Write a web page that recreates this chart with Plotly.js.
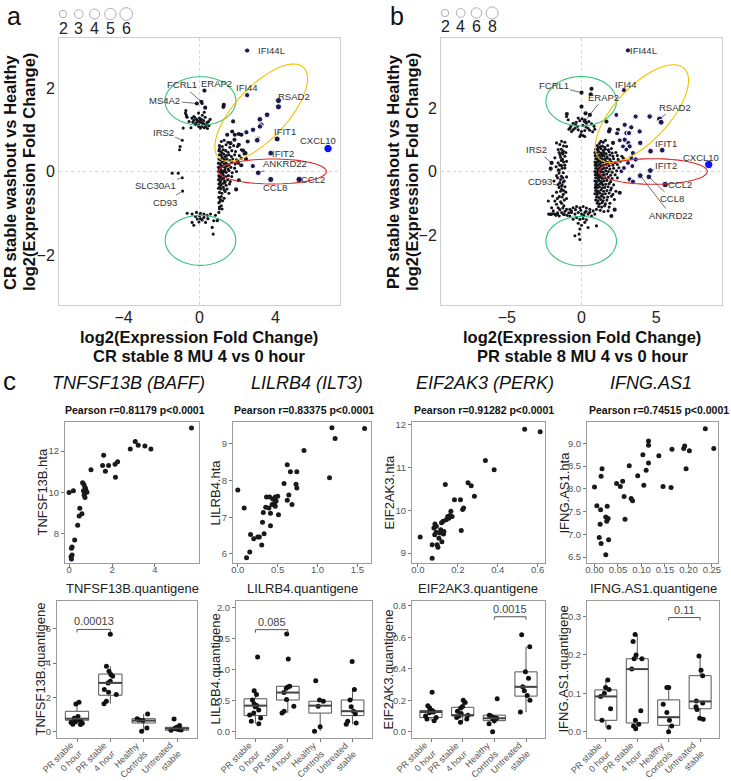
<!DOCTYPE html>
<html><head><meta charset="utf-8">
<script src="https://cdn.plot.ly/plotly-3.0.1.min.js"></script>
<style>html,body{margin:0;padding:0;background:#fff}#chart{width:731px;height:781px}</style>
</head><body><div id="chart"></div>
<script>
// ================= DATA =================
// Panel a (CR stable) volcano-like points [x, y]
const aTopCluster = [[-0.86,1.04],[-0.72,1.46],[-0.70,1.36],[-0.65,1.30],[-0.55,1.20],[-0.45,1.05],[-0.40,1.28],[-0.35,1.18],[-0.30,1.23],[-0.30,1.32],[-0.25,1.30],[-0.21,1.12],[-0.20,1.15],[-0.15,1.25],[-0.12,1.20],[-0.10,1.20],[-0.05,1.12],[-0.04,1.08],[-0.05,1.40],[0.00,1.28],[0.02,1.22],[0.05,1.18],[0.05,1.04],[0.10,1.25],[0.12,1.08],[0.14,1.17],[0.14,1.63],[0.15,1.35],[0.18,1.15],[0.22,1.22],[0.23,1.14],[0.25,1.05],[0.25,1.42],[0.30,1.30],[0.32,1.08],[0.35,1.12],[0.40,1.18],[0.42,1.03],[0.44,1.12],[0.48,1.20],[0.50,1.10],[0.56,1.25],[-0.74,1.40],[-0.68,1.32]];
const aLeftDots = [[-0.91,0.75],[-1.02,0.60],[-1.05,0.52],[-1.44,-0.04],[-1.12,-0.04],[-0.91,-0.15],[-0.89,-0.47]];
const aBottomCluster = [[-0.65,-1.00],[-0.39,-1.02],[-0.16,-0.98],[0.05,-1.00],[0.23,-1.02],[0.40,-1.05],[0.58,-1.02],[0.84,-1.05],[1.02,-0.98],[0.75,-1.18],[0.93,-1.18],[-0.39,-1.22],[-0.30,-1.29],[-0.12,-1.14],[0.05,-1.13],[0.14,-1.16],[0.23,-1.10],[-0.03,-1.21],[0.32,-1.22],[0.67,-1.34],[0.72,-1.50],[0.00,-1.06],[-0.21,-1.08],[0.44,-1.13],[0.96,-1.16],[1.05,-0.89],[1.10,-0.67],[1.02,-0.75],[1.19,-0.90]];
const aCoreDots = [[1.15,0.72],[1.30,0.75],[1.50,0.70],[1.05,0.62],[1.20,0.60],[1.40,0.64],[1.60,0.58],[1.80,0.62],[2.00,0.60],[1.02,0.50],[1.12,0.48],[1.25,0.52],[1.38,0.50],[1.50,0.46],[1.70,0.50],[1.90,0.48],[2.20,0.52],[1.05,0.40],[1.15,0.38],[1.28,0.42],[1.42,0.38],[1.55,0.40],[1.68,0.36],[1.85,0.40],[2.10,0.38],[2.35,0.42],[1.02,0.30],[1.10,0.28],[1.20,0.32],[1.32,0.28],[1.45,0.30],[1.60,0.26],[1.75,0.30],[1.95,0.28],[2.20,0.32],[1.00,0.20],[1.08,0.18],[1.18,0.22],[1.30,0.18],[1.40,0.20],[1.55,0.16],[1.70,0.22],[1.88,0.18],[2.05,0.20],[1.00,0.10],[1.10,0.08],[1.22,0.12],[1.35,0.10],[1.50,0.06],[1.65,0.10],[1.85,0.08],[1.00,0.00],[1.08,-0.02],[1.16,0.02],[1.28,0.00],[1.40,-0.02],[1.55,0.02],[1.72,-0.03],[1.95,0.00],[1.02,-0.10],[1.12,-0.12],[1.25,-0.08],[1.38,-0.12],[1.52,-0.10],[1.70,-0.12],[1.00,-0.20],[1.10,-0.22],[1.20,-0.18],[1.32,-0.22],[1.48,-0.20],[1.62,-0.24],[1.02,-0.30],[1.14,-0.32],[1.26,-0.28],[1.40,-0.33],[1.58,-0.30],[1.00,-0.40],[1.12,-0.42],[1.25,-0.38],[1.45,-0.42],[1.05,-0.50],[1.18,-0.52],[1.35,-0.48],[1.55,-0.52],[1.02,-0.62],[1.15,-0.60],[1.30,-0.64],[1.08,-0.72],[1.22,-0.70],[1.05,-0.85],[1.15,-0.82],[1.06,0.55],[1.18,0.45],[1.33,0.35],[1.26,0.25],[1.12,0.15],[1.45,0.14],[1.05,0.05],[1.33,0.04],[1.20,-0.04],[1.06,-0.15],[1.28,-0.15],[1.10,-0.26],[1.35,-0.26],[1.08,-0.36],[1.30,-0.44]];
const aMidDots = [[1.46,0.88],[1.63,0.68],[1.72,0.96],[1.84,0.76],[2.07,0.90],[2.21,0.88],[2.07,0.64],[2.42,0.44],[2.30,0.50],[2.54,0.72],[1.93,-0.43],[2.07,-0.21],[1.77,1.20],[1.86,0.88],[1.26,1.55],[1.28,1.60],[2.00,0.25],[2.20,0.15],[2.45,0.30],[0.26,1.94],[0.10,1.67],[-0.14,1.63],[0.30,1.53]];
// [x, y, size value]
const aBigDots = [[2.51,2.90,3.6],[2.51,1.83,3.6],[4.16,1.70,4.3],[4.16,1.55,4.3],[3.56,1.36,4],[3.18,1.25,4],[3.25,1.12,4],[3.18,1.08,3.8],[2.82,1.00,3.8],[3.07,0.78,4],[3.04,0.75,4],[2.47,0.94,3.6],[4.09,0.78,4.3],[3.75,0.44,4],[6.77,0.55,6],[3.09,-0.03,4],[3.75,-0.19,4.3],[5.25,-0.19,4.6],[2.81,0.13,3.6]];
const aGenes = ["IFI44L","ERAP2","FCRL1","MS4A2","IFI44","RSAD2","IFIT1","CXCL10","IFIT2","ANKRD22","CCL2","CCL8","IRS2","SLC30A1","CD93"];
const aGeneX = [2.51,0.26,0.10,-0.14,2.51,4.16,4.09,6.77,3.75,3.09,5.25,3.75,-0.91,-0.91,-0.89];
const aGeneY = [2.90,1.94,1.67,1.63,1.83,1.70,0.78,0.55,0.44,-0.03,-0.19,-0.19,0.75,-0.15,-0.47];
const aSizeLegend = [2,3,4,5,6];

// Panel b (PR stable)
const bTopCluster = [[-1.00,1.73],[-0.89,1.63],[-0.71,1.42],[-0.56,1.52],[-0.40,1.47],[-0.22,1.68],[-0.11,1.60],[0.04,1.66],[0.22,1.63],[0.33,1.52],[0.49,1.57],[0.67,1.50],[0.84,1.42],[-0.22,1.31],[0.00,1.26],[0.22,1.29],[-0.04,1.16],[0.11,1.13],[-0.78,1.36],[-0.44,1.36],[0.44,1.36],[-0.67,1.26],[-0.84,1.33],[-0.56,1.31],[-0.27,1.42],[0.89,1.33],[-0.11,1.10],[0.22,1.10],[0.30,1.40],[0.10,1.45],[-0.35,1.55],[0.55,1.30],[0.75,1.25]];
const bLeftStripe = [[-1.67,0.90],[-1.33,0.95],[-1.11,0.92],[-1.00,0.79],[-1.56,0.69],[-1.22,0.64],[-1.44,0.53],[-1.11,0.48],[-1.78,0.43],[-1.27,0.38],[-1.00,0.32],[-1.56,0.27],[-1.33,0.19],[-1.11,0.11],[-1.49,0.04],[-1.22,-0.04],[-1.67,-0.13],[-1.00,-0.17],[-1.40,-0.25],[-1.22,-0.33],[-1.56,-0.41],[-1.11,-0.48],[-1.33,-0.56],[-1.67,-0.65],[-1.22,-0.72],[-1.49,-0.79],[-1.00,-0.85],[-1.78,-0.93],[-1.33,-1.00],[-1.18,-1.08],[-1.56,-1.14],[-1.00,-1.19],[-1.89,-1.24],[-1.33,-1.29],[-2.00,-1.34],[-1.71,-1.38],[-1.49,-1.40],[-1.22,-1.34],[-0.96,-1.38],[-1.84,-0.30],[-1.93,-0.77],[-1.45,0.85],[-1.20,0.80],[-1.35,0.70],[-1.50,0.60],[-1.25,0.55],[-1.40,0.45],[-1.20,0.30],[-1.45,0.20],[-1.30,0.10],[-1.50,-0.05],[-1.35,-0.15],[-1.25,-0.20],[-1.45,-0.35],[-1.30,-0.42],[-1.20,-0.60],[-1.40,-0.62],[-1.50,-0.50],[-1.30,-0.80],[-1.15,-0.90],[-1.40,-0.95],[-1.25,-1.15],[-1.45,-1.20],[-1.60,-1.30],[-1.10,-1.25],[-1.30,0.60],[-1.55,0.05],[-1.15,-0.30],[-1.60,-0.20],[-1.35,0.35],[-1.05,0.60],[-2.22,-0.93],[-2.11,-1.34],[-1.78,-1.34],[-2.00,-1.14],[-1.67,-1.03],[-1.33,-0.46],[-2.20,-1.34],[-2.05,-1.35],[-1.90,-1.33],[-1.60,-1.34],[-1.15,-1.35],[-0.85,-1.30],[-1.70,0.15],[-1.62,-0.85],[-1.05,-0.65],[-1.12,0.20]];
const bBottomCluster = [[-0.78,-1.19],[-0.56,-1.14],[-0.33,-1.10],[-0.11,-1.14],[0.11,-1.10],[0.33,-1.15],[0.56,-1.19],[0.78,-1.24],[1.00,-1.19],[-0.67,-1.29],[-0.44,-1.34],[-0.22,-1.29],[0.00,-1.34],[0.22,-1.29],[0.44,-1.34],[0.67,-1.40],[-0.33,-1.45],[-0.11,-1.50],[0.11,-1.48],[0.33,-1.52],[-0.22,-1.63],[0.00,-1.69],[0.22,-1.60],[-0.11,-1.81],[0.44,-1.76],[1.00,-1.71],[-0.56,-1.50],[-0.16,-1.97],[-0.11,-2.14],[-0.44,-2.02],[-0.78,-1.40],[0.89,-1.34],[-0.67,-1.24],[-0.05,-1.22],[0.15,-1.38],[0.55,-1.28],[-0.40,-1.20],[0.30,-1.25]];
const bRightCore = [[1.30,0.95],[1.45,0.92],[1.60,0.98],[1.20,0.88],[1.05,0.82],[1.25,0.78],[1.40,0.80],[1.55,0.76],[1.75,0.82],[0.95,0.70],[1.10,0.68],[1.30,0.72],[1.45,0.66],[1.60,0.70],[1.80,0.68],[2.00,0.72],[0.90,0.60],[1.00,0.58],[1.15,0.62],[1.30,0.58],[1.50,0.60],[1.65,0.56],[1.85,0.62],[2.05,0.58],[2.30,0.60],[0.92,0.50],[1.05,0.48],[1.20,0.52],[1.35,0.48],[1.50,0.50],[1.70,0.46],[1.90,0.52],[2.10,0.48],[2.40,0.50],[2.70,0.48],[0.95,0.40],[1.08,0.38],[1.22,0.42],[1.38,0.38],[1.55,0.40],[1.72,0.42],[1.90,0.38],[2.15,0.40],[2.45,0.38],[2.80,0.42],[0.90,0.30],[1.00,0.28],[1.12,0.32],[1.28,0.28],[1.42,0.30],[1.60,0.32],[1.78,0.28],[2.00,0.30],[2.25,0.28],[2.60,0.32],[0.92,0.20],[1.05,0.18],[1.18,0.22],[1.32,0.18],[1.48,0.20],[1.65,0.22],[1.85,0.18],[2.10,0.20],[2.40,0.22],[0.95,0.10],[1.08,0.08],[1.20,0.12],[1.35,0.08],[1.50,0.10],[1.68,0.12],[1.90,0.08],[2.15,0.10],[2.50,0.12],[0.90,0.00],[1.02,-0.02],[1.15,0.02],[1.30,0.00],[1.45,-0.02],[1.62,0.02],[1.80,0.00],[2.05,-0.02],[2.35,0.02],[0.92,-0.10],[1.05,-0.12],[1.20,-0.08],[1.35,-0.12],[1.52,-0.10],[1.70,-0.08],[1.95,-0.12],[2.25,-0.10],[0.95,-0.20],[1.10,-0.22],[1.25,-0.18],[1.40,-0.22],[1.58,-0.20],[1.80,-0.18],[2.05,-0.22],[2.40,-0.20],[0.90,-0.30],[1.02,-0.32],[1.18,-0.28],[1.32,-0.32],[1.50,-0.30],[1.70,-0.28],[1.95,-0.32],[0.95,-0.40],[1.10,-0.42],[1.25,-0.38],[1.42,-0.42],[1.62,-0.40],[1.85,-0.38],[2.15,-0.42],[0.92,-0.50],[1.05,-0.52],[1.20,-0.48],[1.38,-0.52],[1.55,-0.50],[1.78,-0.48],[2.00,-0.52],[0.95,-0.60],[1.12,-0.62],[1.30,-0.58],[1.48,-0.62],[1.70,-0.60],[1.95,-0.58],[2.30,-0.62],[0.90,-0.70],[1.05,-0.72],[1.22,-0.68],[1.40,-0.72],[1.60,-0.70],[1.85,-0.68],[2.10,-0.72],[1.00,-0.80],[1.15,-0.82],[1.32,-0.78],[1.50,-0.82],[1.75,-0.80],[2.00,-0.78],[0.95,-0.90],[1.10,-0.92],[1.28,-0.88],[1.45,-0.92],[1.70,-0.90],[2.20,-0.88],[1.05,-1.00],[1.20,-1.02],[1.38,-0.98],[1.60,-1.02],[1.90,-1.00],[1.15,-1.10],[1.35,-1.12],[1.55,-1.08],[1.85,-1.12],[1.25,-1.22],[1.50,-1.26],[1.78,-1.24],[0.98,0.25],[1.12,0.05],[0.98,-0.45],[1.15,-0.15],[1.25,0.35],[1.05,-0.65],[1.40,0.55],[1.12,0.75],[1.35,-0.35],[1.00,-0.05]];
const bMidDots = [[0.00,2.48],[0.67,2.60],[0.62,2.43],[0.00,2.04],[0.27,1.83],[0.56,1.78],[0.22,1.58],[-0.98,1.81],[-2.00,0.27],[-2.06,0.09],[2.56,-0.67],[2.00,-1.40],[2.22,-1.20],[1.67,1.57],[1.84,1.26],[1.89,1.33],[2.11,0.90],[2.44,1.31]];
const bBigDots = [[3.11,3.81,3.6],[2.84,2.56,3.6],[2.33,1.78,3.4],[2.89,1.47,3.6],[3.62,1.73,3.6],[4.56,1.73,3.8],[5.22,1.65,4.2],[5.33,1.55,4.2],[2.38,1.20,3.4],[3.00,1.21,3.6],[3.33,1.39,3.6],[3.89,1.26,3.6],[3.18,1.21,3.6],[3.13,0.90,3.6],[3.93,0.90,3.8],[2.56,0.98,3.4],[2.89,1.00,3.6],[2.78,0.79,3.4],[3.22,0.79,3.6],[3.00,0.69,3.4],[3.44,0.58,3.6],[4.62,0.64,4],[5.40,0.67,4],[8.51,0.22,6],[4.60,0.03,4],[3.93,-0.13,4],[4.51,-0.17,4],[5.60,-0.41,4.5],[3.22,-0.25,3.6],[2.67,0.01,3.4],[2.84,0.11,3.4],[3.11,0.27,3.4],[3.33,0.43,3.4],[3.62,0.38,3.6],[3.40,0.17,3.4],[3.44,-0.32,3.6]];
const bGenes = ["IFI44L","FCRL1","ERAP2","IFI44","RSAD2","IFIT1","CXCL10","IFIT2","CCL2","CCL8","ANKRD22","IRS2","CD93"];
const bGeneX = [3.11,0.00,0.22,2.84,5.22,5.40,8.51,4.60,5.60,4.51,3.93,-2.00,-1.33];
const bGeneY = [3.81,2.48,1.58,2.56,1.65,0.67,0.22,0.03,-0.41,-0.17,-0.13,0.27,-0.46];
const bSizeLegend = [2,4,6,8];

// Panel c scatter (quantigene vs hta) [x, y]
const tnfScatter = [[0.00,10.00],[0.20,10.09],[0.40,8.42],[0.47,8.87],[0.60,8.98],[0.50,9.24],[0.26,7.71],[0.14,7.37],[0.11,7.31],[0.14,6.99],[0.09,6.90],[0.11,6.79],[0.63,10.47],[0.69,10.39],[0.74,10.25],[0.77,10.17],[0.67,10.09],[0.80,10.06],[0.72,9.96],[0.83,10.01],[0.70,9.88],[0.74,9.76],[1.02,11.10],[1.61,11.80],[1.56,11.30],[1.69,11.02],[1.84,11.30],[2.14,11.36],[2.26,11.48],[2.16,10.74],[2.85,12.10],[3.08,12.46],[3.22,12.28],[3.53,12.24],[3.81,12.10],[5.70,13.11]];
const lilScatter = [[0.00,7.74],[0.08,7.25],[0.11,5.89],[0.15,6.05],[0.16,6.53],[0.20,6.41],[0.25,6.46],[0.27,6.46],[0.30,6.24],[0.31,6.86],[0.32,7.13],[0.33,6.55],[0.35,7.27],[0.36,7.55],[0.40,7.55],[0.39,7.25],[0.41,6.77],[0.41,7.11],[0.43,7.35],[0.44,7.50],[0.46,7.38],[0.47,7.55],[0.47,7.30],[0.48,7.44],[0.50,7.57],[0.51,7.07],[0.58,7.92],[0.62,8.43],[0.62,7.46],[0.64,7.61],[0.66,8.24],[0.68,7.35],[0.74,8.24],[0.73,7.90],[0.74,7.80],[0.83,8.82],[1.15,8.08],[1.18,9.44],[1.22,9.15],[1.59,9.42]];
const eifScatter = [[0.011,9.38],[0.071,8.88],[0.071,9.20],[0.080,9.59],[0.084,9.43],[0.091,9.49],[0.096,9.20],[0.100,9.14],[0.105,9.35],[0.114,9.55],[0.120,9.27],[0.126,9.75],[0.130,9.51],[0.137,10.61],[0.142,9.78],[0.149,9.86],[0.155,9.82],[0.165,9.98],[0.171,9.86],[0.183,10.25],[0.213,10.25],[0.217,9.53],[0.224,10.02],[0.229,10.06],[0.251,10.65],[0.267,10.58],[0.283,10.33],[0.338,11.17],[0.382,10.95],[0.535,11.90],[0.613,11.84],[0.085,9.68],[0.092,9.63],[0.110,9.47],[0.118,9.71],[0.128,9.45],[0.160,9.88]];
const ifnScatter = [[0.000,8.04],[0.005,7.63],[0.013,7.54],[0.010,6.93],[0.014,6.80],[0.016,8.44],[0.014,8.28],[0.012,7.22],[0.024,7.38],[0.026,7.29],[0.029,7.35],[0.027,7.62],[0.030,6.88],[0.024,6.55],[0.047,8.12],[0.055,8.05],[0.060,8.17],[0.063,7.83],[0.065,7.33],[0.074,8.51],[0.078,7.79],[0.081,7.74],[0.092,8.29],[0.103,8.75],[0.105,8.08],[0.110,8.41],[0.115,8.57],[0.115,8.96],[0.115,9.05],[0.137,8.73],[0.146,8.05],[0.163,8.03],[0.165,8.87],[0.190,8.89],[0.192,8.94],[0.195,8.44],[0.202,8.84],[0.236,9.32],[0.254,8.89]];
const geneTitles = ["TNFSF13B (BAFF)","LILRB4 (ILT3)","EIF2AK3 (PERK)","IFNG.AS1"];
const pearsonText = ["Pearson r=0.81179 p<0.0001","Pearson r=0.83375 p<0.0001","Pearson r=0.91282 p<0.0001","Pearson r=0.74515 p<0.0001"];
const quantNames = ["TNFSF13B.quantigene","LILRB4.quantigene","EIF2AK3.quantigene","IFNG.AS1.quantigene"];
const htaNames = ["TNFSF13B.hta","LILRB4.hta","EIF2AK3.hta","IFNG.AS1.hta"];

// Panel c boxplots
const boxCats = ["PR stable<br>0 hour","PR stable<br>4 hour","Healthy<br>Controls","Untreated<br>stable"];
const tnfQ1 = [0.68,2.13,0.52,0.10], tnfMed = [0.77,2.85,0.66,0.20], tnfQ3 = [1.20,3.36,0.77,0.27], tnfLo = [0.43,1.64,0.04,0.10], tnfHi = [1.72,3.81,1.04,0.37];
const tnfPts = [[1.72,1.62,0.90,0.80,0.75,0.72,0.70,0.65,0.60,0.55,0.50,0.45,0.43],[5.67,3.81,3.52,3.33,3.23,2.94,2.84,2.46,2.30,2.17,1.78,1.64],[1.04,0.77,0.70,0.66,0.23,0.04],[0.75,0.37,0.27,0.24,0.20,0.18,0.15,0.12,0.10]];
const lilQ1 = [0.26,0.51,0.30,0.26], lilMed = [0.42,0.63,0.42,0.33], lilQ3 = [0.53,0.73,0.49,0.51], lilLo = [0.13,0.30,0.01,0.12], lilHi = [0.66,0.73,0.51,0.68];
const lilPts = [[1.20,0.66,0.60,0.51,0.45,0.42,0.40,0.35,0.30,0.27,0.22,0.17,0.13],[1.57,1.17,0.73,0.72,0.70,0.63,0.52,0.41,0.33,0.30],[0.82,0.51,0.49,0.41,0.08,0.01],[1.13,0.68,0.51,0.40,0.33,0.29,0.17,0.14,0.12]];
const eifQ1 = [0.09,0.10,0.07,0.226], eifMed = [0.125,0.105,0.085,0.285], eifQ3 = [0.135,0.155,0.105,0.38], eifLo = [0.07,0.06,0.05,0.125], eifHi = [0.165,0.20,0.105,0.54];
const eifPts = [[0.25,0.165,0.15,0.135,0.13,0.125,0.12,0.10,0.09,0.08,0.07],[0.20,0.185,0.16,0.15,0.13,0.115,0.105,0.10,0.09,0.08,0.06],[0.21,0.105,0.10,0.09,0.085,0.08,0.07,0.05,0.00],[0.615,0.54,0.38,0.34,0.285,0.26,0.23,0.20,0.125]];
const ifnQ1 = [0.03,0.023,0.017,0.06], ifnMed = [0.092,0.163,0.038,0.079], ifnQ3 = [0.109,0.19,0.083,0.146], ifnLo = [0.012,0.008,0.0,0.034], ifnHi = [0.135,0.253,0.115,0.197];
const ifnPts = [[0.135,0.115,0.11,0.10,0.092,0.06,0.03,0.012],[0.253,0.235,0.20,0.19,0.19,0.163,0.055,0.03,0.02,0.015,0.008],[0.115,0.115,0.072,0.05,0.03,0.015,0.0],[0.197,0.16,0.146,0.08,0.075,0.065,0.058,0.035,0.033]];
const pText = ["0.00013","0.085","0.0015","0.11"];
const pFrom = [0,0,2,2], pTo = [1,1,3,3];
const pY = [5.95,1.64,0.73,0.297];

// ================= LAYOUT HELPERS =================
const W=731, H=781;
const FONT = "Liberation Sans Narrow, Liberation Sans, Arial, sans-serif";
const FONTW = "Liberation Sans, Arial, sans-serif";
const fx = p => p/W, fy = p => 1 - p/H;

const PA = {l:59,r:340,t:38,b:305, xr:[-7.4,7.4], yr:[-3.2,3.2]};
const PB = {l:441,r:722,t:38,b:305, xr:[-9.4,9.4], yr:[-4.2,4.2]};
const SCT = {t:422,b:563}, SCX = [[65,199],[233,371],[412,545],[587,718]];
const BXT = {t:601,b:738}, BXX = [[57,197],[236,372],[412,545],[587,719]];

const traces = [];
const shapes = [];
const ann = [];
const layout = {
  width:W, height:H, margin:{l:0,r:0,t:0,b:0}, showlegend:false,
  paper_bgcolor:'#fff', plot_bgcolor:'#fff', font:{family:FONT, color:'#222'},
  boxmode:'overlay'
};

const sz = s => 0.5 + 1.3*s;
const dotColor = s => s >= 5.5 ? '#0f0fff' : (s >= 3.3 ? '#1b1b55' : '#161628');

function volcano(P, xa, ya, sets, mids, bigs, genes, gx, gy, offs, ellipses, tickX, tickY, legVals, legX0, legDx, legY, legD) {
  const xn = xa==='x'?'xaxis':'xaxis'+xa.slice(1), yn = ya==='y'?'yaxis':'yaxis'+ya.slice(1);
  const common = {showline:true, mirror:true, linecolor:'#cfcfcf', linewidth:1, showgrid:false, zeroline:false, ticks:'', tickfont:{size:16,color:'#222',family:FONT}};
  layout[xn] = Object.assign({}, common, {domain:[fx(P.l),fx(P.r)], range:P.xr, tickvals:tickX, anchor:ya, ticklabelstandoff:-2});
  layout[yn] = Object.assign({}, common, {domain:[fy(P.b),fy(P.t)], range:P.yr, tickvals:tickY, anchor:xa});
  shapes.push({type:'line', xref:xa, yref:ya+' domain', x0:0, x1:0, y0:0, y1:1, line:{color:'#d6d6d6', width:1, dash:'dot'}, layer:'below'});
  shapes.push({type:'line', xref:xa+' domain', yref:ya, x0:0, x1:1, y0:0, y1:0, line:{color:'#d6d6d6', width:1, dash:'dot'}, layer:'below'});
  const small = [].concat(...sets);
  traces.push({type:'scatter', mode:'markers', xaxis:xa, yaxis:ya, x:small.map(p=>p[0]), y:small.map(p=>p[1]), marker:{size:sz(2), color:'#14141c'}, hoverinfo:'skip'});
  traces.push({type:'scatter', mode:'markers', xaxis:xa, yaxis:ya, x:mids.map(p=>p[0]), y:mids.map(p=>p[1]), marker:{size:sz(2.8), color:'#161628'}, hoverinfo:'skip'});
  traces.push({type:'scatter', mode:'markers', xaxis:xa, yaxis:ya, x:bigs.map(p=>p[0]), y:bigs.map(p=>p[1]),
    marker:{size:bigs.map(p=>sz(p[2])), color:bigs.map(p=>dotColor(p[2])), opacity:1}, hoverinfo:'skip'});
  genes.forEach((g,i)=>{
    const o = offs[i];
    if (o[2]) {
      ann.push({xref:xa, yref:ya, x:gx[i], y:gy[i], text:g, showarrow:true, arrowhead:0, arrowwidth:0.7, arrowcolor:'#333', ax:o[0], ay:o[1], standoff:2, font:{size:9.5,color:'#333',family:FONT}});
    } else {
      ann.push({xref:xa, yref:ya, x:gx[i], y:gy[i], text:g, showarrow:false, xshift:o[0], yshift:-o[1], font:{size:9.5,color:'#333',family:FONT}});
    }
  });
  const ppx = (P.r-P.l)/(P.xr[1]-P.xr[0]), ppy = (P.b-P.t)/(P.yr[1]-P.yr[0]);
  ellipses.forEach(e=>{
    const [cx,cy,apx,bpx,ang,col] = e;
    const th = ang*Math.PI/180; let d='';
    for (let k=0;k<=72;k++){
      const t = k/72*2*Math.PI, u=apx*Math.cos(t), v=bpx*Math.sin(t);
      const X = cx + (u*Math.cos(th)-v*Math.sin(th))/ppx, Y = cy + (u*Math.sin(th)+v*Math.cos(th))/ppy;
      d += (k===0?'M':'L') + X.toFixed(4)+','+Y.toFixed(4);
    }
    shapes.push({type:'path', xref:xa, yref:ya, path:d+'Z', line:{color:col, width:1.1}});
  });
  legVals.forEach((v,i)=>{
    const cx = legX0 + i*legDx, r = legD(v)/2;
    shapes.push({type:'circle', xref:'paper', yref:'paper', xsizemode:'pixel', ysizemode:'pixel', xanchor:fx(cx), yanchor:fy(legY), x0:-r, x1:r, y0:-r, y1:r, line:{color:'#b0b0b0', width:1}});
    ann.push({xref:'paper', yref:'paper', x:fx(cx), y:fy(legY+14), text:String(v), showarrow:false, xanchor:'center', yanchor:'middle', font:{size:16,color:'#222',family:FONTW}});
  });
}

const GREEN='#37c27a', GOLD='#f2c200', RED='#dd2a2a';
volcano(PA,'x','y',[aTopCluster,aLeftDots,aBottomCluster,aCoreDots],aMidDots,aBigDots,aGenes,aGeneX,aGeneY,
  [[24,0,0],[12,-7,0],[-19,-17,1],[-32,-3,1],[0,-8,0],[16,-4,0],[8,-7,0],[-10,-8,0],[12,0,0],[27,-9,1],[14,0,0],[4,8,0],[-19,-8,1],[-27,8,1],[-18,11,1]],
  [[0.05,1.69,24.3,35.5,90,GREEN],[0.05,-1.65,25,35.3,90,GREEN],[3.25,1.41,62,26,47,GOLD],[3.85,0.0,53.8,12.5,0,RED]],
  [-4,0,4],[-2,0,2], aSizeLegend, 63, 15.8, 14, v=>4.6+1.35*v);
volcano(PB,'x2','y2',[bTopCluster,bLeftStripe,bBottomCluster,bRightCore],bMidDots,bBigDots,bGenes,bGeneX,bGeneY,
  [[16,0,0],[-28,-7,1],[19,-24,1],[2,-6,0],[15,-12,1],[4,-7,0],[-8,-7,0],[16,-5,1],[15,0,0],[23,22,1],[31,40,1],[-15,-13,1],[-22,-5,1]],
  [[-0.02,2.21,24.7,35.3,90,GREEN],[-0.02,-2.19,24.7,35.3,90,GREEN],[4.04,1.82,62,27,47,GOLD],[4.79,0.0,54.2,12.8,0,RED]],
  [-5,0,5],[-2,0,2], bSizeLegend, 445, 15.7, 13, v=>5.7+0.8*v);

function T(text,x,y,size,opt){ ann.push(Object.assign({xref:'paper',yref:'paper',x:fx(x),y:fy(y),text:text,showarrow:false,xanchor:'center',yanchor:'middle',font:{size:size,color:'#111',family:FONT}},opt||{})); }
T('<b>log2(Expression Fold Change)</b>',199,337,16.5);
T('<b>CR stable 8 MU 4 vs 0 hour</b>',199,356,16.5);
T('<b>log2(Expression Fold Change)</b>',582,337,16.5);
T('<b>PR stable 8 MU 4 vs 0 hour</b>',582,356,16.5);
T('<b>CR stable washout vs Healthy</b>',10,172,16.5,{textangle:-90});
T('<b>log2(Expression Fold Change)</b>',29,172,16.5,{textangle:-90});
T('<b>PR stable washout vs Healthy</b>',393,172,16.5,{textangle:-90});
T('<b>log2(Expression Fold Change)</b>',412,172,16.5,{textangle:-90});
T('a',14,0,25,{yanchor:'top', font:{size:25,color:'#111',family:FONTW}});
T('b',397,0,25,{yanchor:'top', font:{size:25,color:'#111',family:FONTW}});
T('c',9,381,26,{font:{size:26,color:'#111',family:FONTW}});

// scatter panels
const scatterSets = [tnfScatter, lilScatter, eifScatter, ifnScatter];
const scRanges = [[[-0.19,6.05],[6.6,13.4]],[[-0.06,1.67],[5.75,9.6]],[[-0.03,0.637],[8.77,12.07]],[[-0.016,0.263],[6.37,9.47]]];
const scTicks = [[[0,2,4],[8,10,12],'',''],[[0,0.5,1,1.5],[6,7,8,9],'.1f',''],[[0,0.2,0.4,0.6],[9,10,11,12],'.1f',''],[[0,0.05,0.1,0.15,0.2,0.25],[6.5,7,7.5,8,8.5,9],'.2f','.1f']];
const axC = {showline:true, mirror:true, linecolor:'#9c9c9c', linewidth:1, showgrid:false, zeroline:false, ticks:'outside', ticklen:3, tickcolor:'#777', tickwidth:1, tickfont:{size:9.5,color:'#555',family:FONT}};
const titleCx = [128,307,485,651], pearL = [63,232,412,587], qTitleX=[132,302,478,653], htaX=[42,215,389,564], bqX=[40,215,388,563];
for (let i=0;i<4;i++){
  const xa='x'+(3+i), ya='y'+(3+i);
  layout['xaxis'+(3+i)] = Object.assign({}, axC, {domain:[fx(SCX[i][0]),fx(SCX[i][1])], range:scRanges[i][0], tickvals:scTicks[i][0], tickformat:scTicks[i][2], anchor:ya, ticklabelstandoff:-5});
  layout['yaxis'+(3+i)] = Object.assign({}, axC, {domain:[fy(SCT.b),fy(SCT.t)], range:scRanges[i][1], tickvals:scTicks[i][1], tickformat:scTicks[i][3], anchor:xa});
  const d = scatterSets[i];
  traces.push({type:'scatter', mode:'markers', xaxis:xa, yaxis:ya, x:d.map(p=>p[0]), y:d.map(p=>p[1]), marker:{size:5, color:'#1a1a1a'}, hoverinfo:'skip'});
  T('<i>'+geneTitles[i]+'</i>', titleCx[i], 383, 18, {font:{size:18,color:'#111',family:FONT}});
  T('<b>'+pearsonText[i]+'</b>', pearL[i], 410, 10.5, {xanchor:'left', font:{size:10.5,color:'#111',family:FONT}});
  T(quantNames[i], qTitleX[i], 588, 13, {font:{size:13,color:'#222',family:FONT}});
  T(htaNames[i], htaX[i], (SCT.t+SCT.b)/2, 13, {textangle:-90, font:{size:13,color:'#222',family:FONT}});
}

// box panels
const boxStats = [[tnfQ1,tnfMed,tnfQ3,tnfLo,tnfHi,tnfPts],[lilQ1,lilMed,lilQ3,lilLo,lilHi,lilPts],[eifQ1,eifMed,eifQ3,eifLo,eifHi,eifPts],[ifnQ1,ifnMed,ifnQ3,ifnLo,ifnHi,ifnPts]];
const bxRanges = [[-0.35,7.6],[-0.1,2.1],[-0.04,0.83],[-0.016,0.34]];
const bxTicks = [[[0,2,4,6],''],[[0,0.5,1,1.5,2],'.1f'],[[0,0.2,0.4,0.6,0.8],'.1f'],[[0,0.1,0.2,0.3],'.1f']];
const grp = [0,1,2,3];
for (let i=0;i<4;i++){
  const n=7+i, xa='x'+n, ya='y'+n;
  layout['xaxis'+n] = Object.assign({}, axC, {domain:[fx(BXX[i][0]),fx(BXX[i][1])], range:[-0.6,3.6], tickvals:grp, showticklabels:false, anchor:ya});
  layout['yaxis'+n] = Object.assign({}, axC, {domain:[fy(BXT.b),fy(BXT.t)], range:bxRanges[i], tickvals:bxTicks[i][0], tickformat:bxTicks[i][1], anchor:xa});
  const [q1,md,q3,lo,hi,pts] = boxStats[i];
  traces.push({type:'box', xaxis:xa, yaxis:ya, x:grp, q1:q1, median:md, q3:q3, lowerfence:lo, upperfence:hi, width:0.7, whiskerwidth:0,
    fillcolor:'rgba(255,255,255,0)', line:{color:'#555', width:1}, boxpoints:false, hoverinfo:'skip'});
  const mx=[], my=[];
  md.forEach((m,g)=>{ mx.push(g-0.35,g+0.35,null); my.push(m,m,null); });
  traces.push({type:'scatter', mode:'lines', xaxis:xa, yaxis:ya, x:mx, y:my, line:{color:'#444', width:2}, hoverinfo:'skip'});
  const px=[], py=[];
  pts.forEach((arr,g)=>arr.forEach(v=>{px.push(g); py.push(v);}));
  traces.push({type:'box', xaxis:xa, yaxis:ya, x:px, y:py, width:0.7, boxpoints:'all', jitter:0.6, pointpos:0,
    fillcolor:'rgba(0,0,0,0)', line:{color:'rgba(0,0,0,0)', width:0}, marker:{size:5, color:'#111'}, hoverinfo:'skip'});
  const ppy = (BXT.b-BXT.t)/(bxRanges[i][1]-bxRanges[i][0]), t = 3/ppy;
  const a=pFrom[i], b=pTo[i], y=pY[i];
  shapes.push({type:'path', xref:xa, yref:ya, path:`M${a},${y-t} L${a},${y} L${b},${y} L${b},${y-t}`, line:{color:'#555', width:1}});
  ann.push({xref:xa, yref:ya, x:(a+b)/2, y:y, text:pText[i], showarrow:false, yanchor:'bottom', yshift:0, font:{size:11,color:'#444',family:FONT}});
  T(quantNames[i], bqX[i], (BXT.t+BXT.b)/2, 13, {textangle:-90, font:{size:13,color:'#222',family:FONT}});
  boxCats.forEach((c,g)=>{
    ann.push({xref:xa, yref:'paper', x:g, y:fy(BXT.b+1), text:c, showarrow:false, textangle:-45, xanchor:'right', yanchor:'top', align:'right', xshift:8, borderpad:0,
      font:{size:9,color:'#555',family:FONT}});
  });
}

layout.shapes = shapes;
layout.annotations = ann;
Plotly.newPlot('chart', traces, layout, {staticPlot:true, displayModeBar:false});
</script></body></html>
